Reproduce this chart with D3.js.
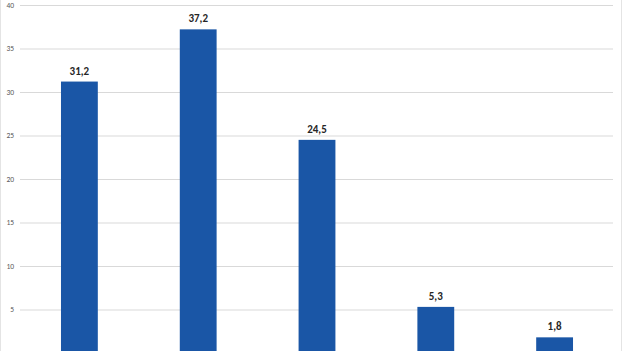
<!DOCTYPE html>
<html>
<head>
<meta charset="utf-8">
<script src="https://cdn.jsdelivr.net/npm/d3@7"></script>
<style>
  html, body { margin: 0; padding: 0; background: #fff; }
  svg { display: block; }
</style>
</head>
<body>
<svg width="624" height="351"></svg>
<script>
// chart data
const categories = ['1', '2', '3', '4', '5'];
const values = [31.2, 37.2, 24.5, 5.3, 1.8];
const yTicks = [0, 5, 10, 15, 20, 25, 30, 35, 40];

const svg = d3.select('svg');

// comma as decimal separator
const locale = d3.formatLocale({ decimal: ',', thousands: ' ', grouping: [3], currency: ['', ''] });
const fmt = locale.format('.1f');

let x = d3.scaleBand()
  .domain(categories)
  .range([20, 614])
  .paddingInner(0.69)
  .paddingOuter(0.345);

let y = d3.scaleLinear()
  .domain([0, 40])
  .range([353, 5]);

// frame lines
svg.append('line')
  .attr('x1', 0.5).attr('x2', 0.5).attr('y1', 0).attr('y2', 351)
  .attr('stroke', '#e4e4e4');
svg.append('line')
  .attr('x1', 621.5).attr('x2', 621.5).attr('y1', 0).attr('y2', 351)
  .attr('stroke', '#e4e4e4');

// gridlines + tick labels
let yAxis = d3.axisLeft(y)
  .tickValues(yTicks)
  .tickSize(-(613 - 20))
  .tickPadding(6)
  .tickFormat(d3.format('d'));

svg.append('g')
  .attr('transform', 'translate(20,0)')
  .call(yAxis)
  .call((g) => {
    g.select('.domain').remove();
    g.selectAll('.tick line').attr('stroke', '#d9d9d9').attr('stroke-width', 1);
    g.selectAll('.tick text')
      .attr('fill', '#595959')
      .attr('font-family', 'Calibri, Carlito, "Liberation Sans", Arial, sans-serif')
      .attr('font-size', 7.5);
  });

// bars
svg.append('g').selectAll('rect')
  .data(values)
  .join('rect')
  .attr('x', (d, i) => x(categories[i]))
  .attr('y', (d) => y(d))
  .attr('width', x.bandwidth())
  .attr('height', (d) => y(0) - y(d))
  .attr('fill', '#1a56a6');

// value labels
svg.append('g').selectAll('text')
  .data(values)
  .join('text')
  .attr('x', (d, i) => x(categories[i]) + x.bandwidth() / 2)
  .attr('y', (d) => y(d) - 7)
  .attr('text-anchor', 'middle')
  .attr('font-family', 'Calibri, Carlito, "Liberation Sans", Arial, sans-serif')
  .attr('font-weight', 'bold')
  .attr('font-size', 11)
  .attr('fill', '#262626')
  .text((d) => fmt(d));
</script>
</body>
</html>
